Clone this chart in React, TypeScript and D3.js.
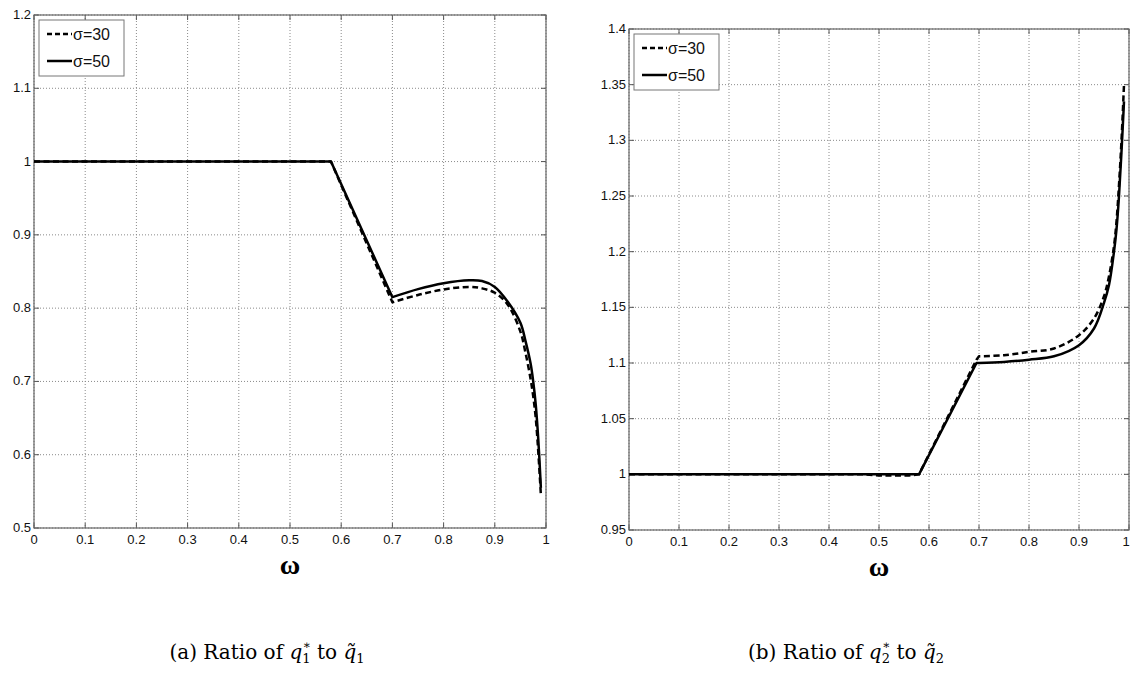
import React from "react";
import * as d3 from "d3";

// omega sample points
const omegaA = [0, 0.58, 0.7, 0.75, 0.8, 0.85, 0.875, 0.9, 0.925, 0.95, 0.96, 0.97, 0.975, 0.98, 0.985, 0.99];
const ratioA30 = [1, 1, 0.808, 0.818, 0.8255, 0.829, 0.827, 0.821, 0.805, 0.768, 0.739, 0.703, 0.68, 0.65, 0.603, 0.545];
const ratioA50 = [1, 1, 0.815, 0.826, 0.834, 0.838, 0.837, 0.829, 0.809, 0.78, 0.755, 0.724, 0.7, 0.668, 0.62, 0.555];

const omegaB30 = [0, 0.47, 0.5, 0.56, 0.58, 0.695, 0.7, 0.75, 0.8, 0.85, 0.9, 0.93, 0.95, 0.96, 0.97, 0.975, 0.98, 0.985, 0.99];
const ratioB30 = [1, 1, 0.999, 0.999, 1, 1.103, 1.106, 1.107, 1.11, 1.113, 1.125, 1.14, 1.16, 1.178, 1.205, 1.227, 1.26, 1.3, 1.35];
const omegaB50 = [0, 0.58, 0.695, 0.7, 0.75, 0.8, 0.85, 0.9, 0.93, 0.95, 0.96, 0.97, 0.975, 0.98, 0.985, 0.99];
const ratioB50 = [1, 1, 1.1, 1.1, 1.101, 1.103, 1.106, 1.116, 1.131, 1.154, 1.17, 1.2, 1.22, 1.25, 1.29, 1.335];

const xTicks = [0, 0.1, 0.2, 0.3, 0.4, 0.5, 0.6, 0.7, 0.8, 0.9, 1];
const yTicksA = [0.5, 0.6, 0.7, 0.8, 0.9, 1, 1.1, 1.2];
const yTicksB = [0.95, 1, 1.05, 1.1, 1.15, 1.2, 1.25, 1.3, 1.35, 1.4];

const legendLabels = ["σ=30", "σ=50"];

// knee = index where the straight part ends and the smooth part begins
type Series = { xs: number[]; ys: number[]; dashed: boolean; knee: number };

const Panel = ({ left, top, width, height, yDomain, yTicks, series }: {
  left: number; top: number; width: number; height: number;
  yDomain: [number, number]; yTicks: number[]; series: Series[];
}) => {
  const x = d3.scaleLinear().domain([0, 1]).range([left, left + width]);
  const y = d3.scaleLinear().domain(yDomain).range([top + height, top]);
  const straight = d3.line<[number, number]>().x((d) => x(d[0])).y((d) => y(d[1]));
  const smooth = d3.line<[number, number]>().x((d) => x(d[0])).y((d) => y(d[1]))
    .curve(d3.curveCatmullRom.alpha(0.5));
  const fmt = (v: number) => String(+v.toFixed(2));
  const tickLen = 5;

  const pathFor = (s: Series) => {
    const pts = s.xs.map((v, j) => [v, s.ys[j]] as [number, number]);
    const a = straight(pts.slice(0, s.knee + 1)) || "";
    const b = (smooth(pts.slice(s.knee)) || "").replace(/^M[^LC]*/, "");
    return a + b;
  };

  return (
    <g>
      <rect x={left} y={top} width={width} height={height} fill="white" />
      {/* grid */}
      {xTicks.map((t) => (
        <line key={"gx" + t} x1={x(t)} x2={x(t)} y1={top} y2={top + height}
          stroke="#8a8a8a" strokeWidth={1} strokeDasharray="1,2" />
      ))}
      {yTicks.map((t) => (
        <line key={"gy" + t} x1={left} x2={left + width} y1={y(t)} y2={y(t)}
          stroke="#8a8a8a" strokeWidth={1} strokeDasharray="1,2" />
      ))}
      {/* tick marks */}
      {xTicks.map((t) => (
        <g key={"tx" + t} stroke="#555">
          <line x1={x(t)} x2={x(t)} y1={top + height} y2={top + height - tickLen} />
          <line x1={x(t)} x2={x(t)} y1={top} y2={top + tickLen} />
        </g>
      ))}
      {yTicks.map((t) => (
        <g key={"ty" + t} stroke="#555">
          <line x1={left} x2={left + tickLen} y1={y(t)} y2={y(t)} />
          <line x1={left + width} x2={left + width - tickLen} y1={y(t)} y2={y(t)} />
        </g>
      ))}
      <rect x={left} y={top} width={width} height={height} fill="none" stroke="#666" strokeWidth={1.2} />
      {/* tick labels */}
      {xTicks.map((t) => (
        <text key={"lx" + t} x={Math.min(x(t), 1126)} y={top + height + 16} textAnchor="middle"
          fontFamily="Liberation Sans, Arial, sans-serif" fontSize={13} fill="#111">{fmt(t)}</text>
      ))}
      {yTicks.map((t) => (
        <text key={"ly" + t} x={left - 3} y={y(t) + 4} textAnchor="end"
          fontFamily="Liberation Sans, Arial, sans-serif" fontSize={13} fill="#111">{fmt(t)}</text>
      ))}
      {/* curves */}
      {series.map((s, i) => (
        <path key={"s" + i} d={pathFor(s)}
          fill="none" stroke="#000" strokeWidth={2.5} strokeLinejoin="round"
          strokeDasharray={s.dashed ? "6,3.5" : undefined} />
      ))}
      {/* legend */}
      <g transform={`translate(${left + 5},${top + 5})`}>
        <rect x={0} y={0} width={85} height={56} fill="white" stroke="#777" strokeWidth={1} />
        {legendLabels.map((lab, i) => (
          <g key={lab} transform={`translate(0,${14 + i * 27})`}>
            <line x1={8} x2={33} y1={0} y2={0} stroke="#000" strokeWidth={2.5}
              strokeDasharray={i === 0 ? "5,3" : undefined} />
            <text x={34} y={6} fontFamily="Liberation Sans, Arial, sans-serif" fontSize={16} fill="#111">{lab}</text>
          </g>
        ))}
      </g>
      {/* x label */}
      <text x={left + width / 2} y={top + height + 46} textAnchor="middle"
        fontFamily="Liberation Serif, serif" fontWeight="bold" fontSize={28} fill="#000">ω</text>
    </g>
  );
};

const Caption = ({ cx, cy, tag, idx }: { cx: number; cy: number; tag: string; idx: string }) => (
  <text x={cx} y={cy} textAnchor="middle" fontFamily="DejaVu Serif, serif" fontSize={20} fill="#000">
    {`(${tag}) Ratio of `}
    <tspan fontStyle="italic">q</tspan>
    <tspan fontSize={13} dy={4}>{idx}</tspan>
    <tspan fontSize={12} dx={-8} dy={-14}>∗</tspan>
    <tspan dy={10}>{" to "}</tspan>
    <tspan fontStyle="italic">{"q\u0303"}</tspan>
    <tspan fontSize={13} dy={4}>{idx}</tspan>
  </text>
);

export default function App() {
  return (
    <svg width={1131} height={673} style={{ display: "block", position: "absolute", left: 0, top: 0, background: "white" }}>
      <rect width={1131} height={673} fill="white" />
      <Panel left={34} top={15} width={512} height={513} yDomain={[0.5, 1.2]} yTicks={yTicksA}
        series={[
          { xs: omegaA, ys: ratioA30, dashed: true, knee: 2 },
          { xs: omegaA, ys: ratioA50, dashed: false, knee: 2 },
        ]} />
      <Panel left={629} top={29} width={500} height={501} yDomain={[0.95, 1.4]} yTicks={yTicksB}
        series={[
          { xs: omegaB30, ys: ratioB30, dashed: true, knee: 6 },
          { xs: omegaB50, ys: ratioB50, dashed: false, knee: 3 },
        ]} />
      <Caption cx={267} cy={659} tag="a" idx="1" />
      <Caption cx={846} cy={659} tag="b" idx="2" />
    </svg>
  );
}
